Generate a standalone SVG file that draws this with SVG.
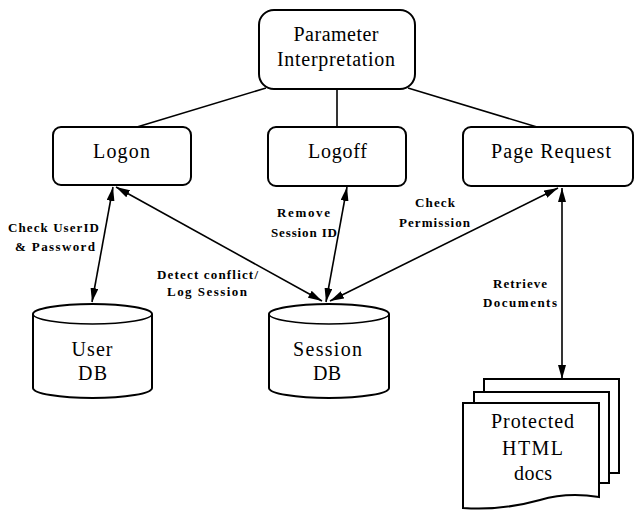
<svg xmlns="http://www.w3.org/2000/svg" width="636" height="515" viewBox="0 0 636 515">
<style>
.box{fill:#fff;stroke:#000;stroke-width:2}
.ln{fill:none;stroke:#000;stroke-width:1.6}
.arr{fill:none;stroke:#000;stroke-width:1.6;marker-start:url(#ah);marker-end:url(#ah)}
.t{font-family:"Liberation Serif","Times New Roman",serif;font-size:20px;fill:#000;text-anchor:middle}
.l{font-family:"Liberation Serif","Times New Roman",serif;font-size:13px;font-weight:bold;fill:#000;text-anchor:middle}
</style>
<defs>
<marker id="ah" viewBox="0 0 14 8" refX="14" refY="4" markerWidth="14" markerHeight="8" markerUnits="userSpaceOnUse" orient="auto-start-reverse">
<path d="M0,0 L14,4 L0,8 Z" fill="#000"/>
</marker>
</defs>
<rect width="636" height="515" fill="#fff"/>
<g id="connectors">
<line class="ln" x1="266" y1="88" x2="137" y2="127"/>
<line class="ln" x1="337" y1="89" x2="337" y2="127"/>
<line class="ln" x1="408" y1="88" x2="537" y2="127"/>
<line class="arr" x1="113" y1="187" x2="92" y2="302"/>
<line class="arr" x1="116" y1="187" x2="322" y2="301"/>
<line class="arr" x1="347" y1="187" x2="326" y2="302"/>
<line class="arr" x1="558" y1="188" x2="330" y2="301"/>
<line class="arr" x1="562" y1="188" x2="562" y2="379"/>
<text class="l" x="53.5" y="232" textLength="91">Check UserID</text>
<text class="l" x="55" y="251" textLength="80">&amp; Password</text>
<text class="l" x="207.5" y="279" textLength="101">Detect conflict/</text>
<text class="l" x="207" y="296" textLength="80">Log Session</text>
<text class="l" x="303.5" y="217" textLength="53">Remove</text>
<text class="l" x="304" y="237" textLength="66">Session ID</text>
<text class="l" x="435" y="207" textLength="40">Check</text>
<text class="l" x="434.5" y="227" textLength="71">Permission</text>
<text class="l" x="520" y="288" textLength="54">Retrieve</text>
<text class="l" x="520" y="307" textLength="74">Documents</text>
</g>
<g id="param">
<rect class="box" x="259" y="10" width="156" height="79" rx="15"/>
<text class="t" x="336" y="41" textLength="85">Parameter</text>
<text class="t" x="336" y="66" textLength="118">Interpretation</text>
</g>
<g id="logon">
<rect class="box" x="53" y="127" width="138" height="58" rx="8"/>
<text class="t" x="121.5" y="158" textLength="57">Logon</text>
</g>
<g id="logoff">
<rect class="box" x="268" y="127" width="138" height="59" rx="8"/>
<text class="t" x="337.5" y="158" textLength="59">Logoff</text>
</g>
<g id="pagerequest">
<rect class="box" x="463" y="127" width="170" height="59" rx="8"/>
<text class="t" x="551" y="158" textLength="120">Page Request</text>
</g>
<g id="userdb">
<path class="box" d="M33,314 V388 A59.5,10 0 0 0 152,388 V314 A59.5,10 0 0 0 33,314 Z"/>
<path class="ln" d="M33,314 A59.5,10 0 0 0 152,314"/>
<text class="t" x="92" y="356" textLength="41">User</text>
<text class="t" x="92.5" y="380" textLength="29">DB</text>
</g>
<g id="sessiondb">
<path class="box" d="M269,314 V388 A60,10 0 0 0 389,388 V314 A60,10 0 0 0 269,314 Z"/>
<path class="ln" d="M269,314 A60,10 0 0 0 389,314"/>
<text class="t" x="327.5" y="356" textLength="69">Session</text>
<text class="t" x="327" y="380" textLength="28">DB</text>
</g>
<g id="docs">
<rect class="box" x="484" y="379" width="135" height="94"/>
<rect class="box" x="474" y="392" width="135" height="91"/>
<path class="box" d="M463,403 H599 V497 C580,494 560,494 540,500 C515,507 490,510 463,508 Z"/>
<text class="t" x="532.5" y="428" textLength="83">Protected</text>
<text class="t" x="532.5" y="455" textLength="61">HTML</text>
<text class="t" x="533" y="480" textLength="38">docs</text>
</g>
</svg>
